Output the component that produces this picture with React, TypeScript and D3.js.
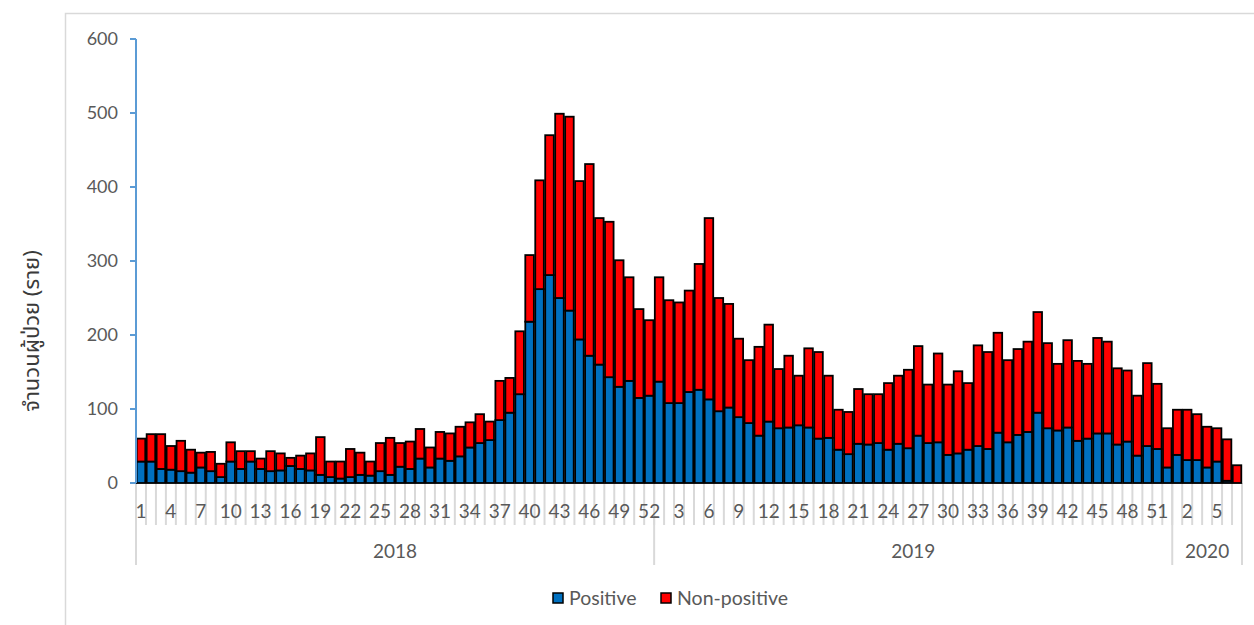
import React from 'react';
import * as d3 from 'd3';

// weekly counts
const years = ['2018', '2019', '2020'];
const weeks2018 = d3.range(1, 53);
const weeks2019 = d3.range(1, 53);
const weeks2020 = [1, 2, 3, 4, 5, 6, 7];

const positive2018 = [29, 29, 19, 18, 16, 14, 21, 16, 8, 29, 19, 29, 19, 16, 17, 23, 19, 17, 11, 8, 6, 8, 11, 10, 16, 11, 22, 19, 33, 21, 33, 30, 36, 48, 54, 58, 85, 95, 120, 218, 262, 281, 250, 233, 194, 172, 160, 143, 130, 138, 115, 118];
const nonPositive2018 = [31, 37, 47, 32, 41, 31, 20, 26, 18, 26, 24, 14, 14, 27, 23, 11, 18, 23, 51, 21, 23, 38, 30, 19, 38, 50, 32, 37, 40, 27, 36, 37, 40, 34, 39, 25, 53, 47, 85, 90, 147, 189, 249, 262, 214, 259, 198, 210, 171, 140, 120, 102];

const positive2019 = [137, 108, 108, 123, 126, 113, 97, 102, 89, 81, 64, 83, 74, 75, 78, 75, 60, 61, 45, 39, 53, 52, 54, 45, 53, 47, 64, 54, 55, 38, 40, 45, 50, 46, 68, 55, 65, 69, 95, 74, 71, 75, 57, 60, 67, 67, 52, 56, 37, 50, 46, 21];
const nonPositive2019 = [141, 139, 136, 137, 170, 245, 153, 140, 106, 85, 120, 131, 80, 97, 67, 107, 117, 84, 54, 57, 74, 68, 66, 90, 92, 106, 121, 79, 120, 95, 111, 90, 136, 131, 135, 111, 116, 122, 136, 115, 90, 118, 108, 101, 129, 124, 103, 96, 81, 112, 88, 53];

const positive2020 = [38, 31, 31, 21, 29, 3, 0];
const nonPositive2020 = [61, 68, 62, 55, 45, 56, 24];

const yTicks = [0, 100, 200, 300, 400, 500, 600];
const seriesNames = ['Positive', 'Non-positive'];
const seriesColors = ['#0070c0', '#ff0000'];

const W = 1254;
const H = 625;
const margin = { left: 136, right: 12, top: 39, bottom: 142 };
const labelEvery = 3;

const gray = '#595959';
const lightGray = '#d9d9d9';
const fontFam = 'Lato, "Open Sans", sans-serif';

export default function App() {
	// build the rows for the stack
	const rows: any[] = [];
	const groups = [
		{ year: years[0], weeks: weeks2018, pos: positive2018, non: nonPositive2018 },
		{ year: years[1], weeks: weeks2019, pos: positive2019, non: nonPositive2019 },
		{ year: years[2], weeks: weeks2020, pos: positive2020, non: nonPositive2020 },
	];
	groups.forEach(g => {
		g.weeks.forEach((w, i) => {
			rows.push({ key: `${g.year}-${w}`, year: g.year, week: w, Positive: g.pos[i], 'Non-positive': g.non[i] });
		});
	});

	const x = d3
		.scaleBand()
		.domain(rows.map(d => d.key))
		.range([margin.left, W - margin.right])
		.paddingInner(0.14)
		.paddingOuter(0.07);
	const step = x.step();
	const y = d3
		.scaleLinear()
		.domain([0, 600])
		.range([H - margin.bottom, margin.top]);

	const stacked = d3.stack().keys(seriesNames)(rows);
	const y0 = y(0);
	const x0 = margin.left;
	const x1 = W - margin.right;

	// category boundaries
	const edge = (i: number) => x0 + step * i;
	let acc = 0;
	const yearSpans = groups.map(g => {
		const s = acc;
		acc += g.weeks.length;
		return { year: g.year, start: s, end: acc };
	});

	return (
		<svg
			width={W}
			height={H}
			style={{ position: 'absolute', left: 0, top: 0, background: '#fff' }}
			fontFamily={fontFam}
		>
			<rect x={65.5} y={13.5} width={W} height={H} fill="none" stroke={lightGray} strokeWidth={1.5} />

			{/* tick separators under axis */}
			{rows.map((d, i) => (
				<line key={'sep' + i} x1={edge(i)} x2={edge(i)} y1={y0} y2={y0 + 42} stroke={lightGray} strokeWidth={2} />
			))}
			{yearSpans.map(s => (
				<line key={'ys' + s.year} x1={edge(s.end)} x2={edge(s.end)} y1={y0} y2={y0 + 82} stroke={lightGray} strokeWidth={2} />
			))}
			<line x1={x0} x2={x0} y1={y0} y2={y0 + 82} stroke={lightGray} strokeWidth={2} />
			<line x1={x0} x2={x1} y1={y0} y2={y0} stroke={lightGray} strokeWidth={1.5} />

			{/* bars */}
			{stacked.map((s, si) => (
				<g key={s.key} fill={seriesColors[si]} stroke="#000" strokeWidth={1.8}>
					{s.map((d: any, i) =>
						d[1] - d[0] > 0 ? (
							<rect
								key={i}
								x={x(d.data.key)}
								width={x.bandwidth()}
								y={y(d[1])}
								height={y(d[0]) - y(d[1])}
							/>
						) : null
					)}
				</g>
			))}

			{/* y axis */}
			<line x1={x0} x2={x0} y1={y(600)} y2={y0} stroke="#5b9bd5" strokeWidth={2} />
			{yTicks.map(t => (
				<g key={'yt' + t}>
					<line x1={x0 - 6} x2={x0} y1={y(t)} y2={y(t)} stroke="#5b9bd5" strokeWidth={2} />
					<text x={118} y={y(t)} dy="0.35em" textAnchor="end" fontSize={18} fill={gray}>
						{t}
					</text>
				</g>
			))}

			{/* week labels */}
			{rows.map((d, i) =>
				i % labelEvery === 0 ? (
					<text
						key={'wl' + i}
						x={edge(i) + step / 2}
						y={y0 + 28}
						dy="0.35em"
						textAnchor="middle"
						fontSize={19}
						fill={gray}
					>
						{d.week}
					</text>
				) : null
			)}

			{/* year labels */}
			{yearSpans.map(s => (
				<text
					key={'yl' + s.year}
					x={(edge(s.start) + edge(s.end)) / 2}
					y={y0 + 68}
					dy="0.35em"
					textAnchor="middle"
					fontSize={19}
					fill={gray}
				>
					{s.year}
				</text>
			))}

			{/* y title */}
			<text
				transform="translate(31,331) rotate(-90)"
				textAnchor="middle"
				dy="0.35em"
				fontSize={22}
				fontWeight={400}
				fill="#3a3a3a"
				fontFamily={'"Noto Sans Thai", Tahoma, "Noto Sans", sans-serif'}
			>
				จำนวนผู้ป่วย (ราย)
			</text>

			{/* legend */}
			{seriesNames.map((n, i) => {
				const lx = i === 0 ? 553 : 661;
				return (
					<g key={'lg' + n}>
						<rect x={lx} y={593} width={10} height={10} fill={seriesColors[i]} stroke="#000" strokeWidth={1.5} />
						<text x={lx + 16} y={598} dy="0.35em" fontSize={19.5} fill={gray}>
							{n}
						</text>
					</g>
				);
			})}
		</svg>
	);
}
